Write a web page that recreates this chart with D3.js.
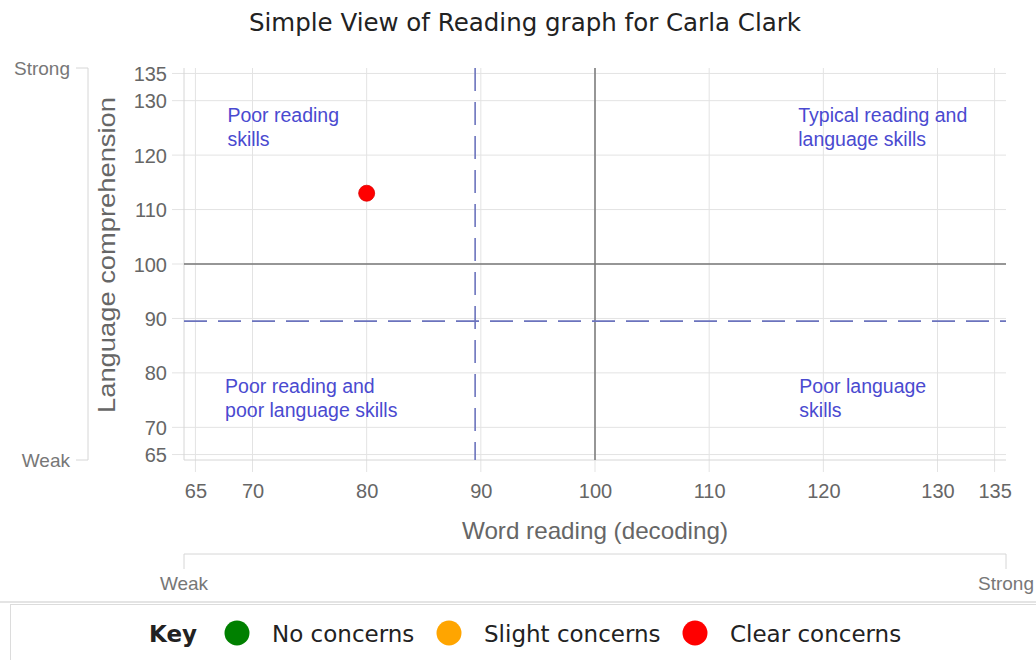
<!DOCTYPE html>
<html lang="en">
<head>
  <meta charset="UTF-8">
  <title>Simple View of Reading graph for Carla Clark</title>
  <style>
    html, body { margin: 0; padding: 0; background: #fff; overflow: hidden; }
    svg { display: block; }
  </style>
</head>
<body>
  <script src="https://d3js.org/d3.v7.min.js"></script>
  <script>
    // data
    const tickValues = [65, 70, 80, 90, 100, 110, 120, 130, 135];
    const pupil = [{ name: 'Carla Clark', decoding: 80, comprehension: 113, status: 'Clear concerns' }];
    const cutoff = 89.5;
    const average = 100;
    const quadrantLabels = [
      { lines: ['Poor reading', 'skills'], x: 67.8, y: 126 },
      { lines: ['Typical reading and', 'language skills'], x: 117.8, y: 126 },
      { lines: ['Poor reading and', 'poor language skills'], x: 67.6, y: 76.3 },
      { lines: ['Poor language', 'skills'], x: 117.9, y: 76.3 }
    ];
    const keyItems = ['No concerns', 'Slight concerns', 'Clear concerns'];
    const keyColors = ['#008000', '#ffa500', '#ff0000'];

    const width = 1036;
    const height = 660;
    const font = '"Liberation Sans", Arial, sans-serif';

    const svg = d3.select('body').append('svg')
      .attr('width', width)
      .attr('height', height);

    // title
    svg.append('text')
      .attr('x', 525).attr('y', 31)
      .attr('text-anchor', 'middle')
      .style('font-family', '"DejaVu Sans", sans-serif')
      .style('font-size', '24.5px')
      .attr('fill', '#222')
      .text('Simple View of Reading graph for Carla Clark');

    const x = d3.scaleLinear().domain([64, 136]).range([184, 1006]);
    const y = d3.scaleLinear().domain([64, 136]).range([460, 68]);

    // gridlines
    svg.append('g').selectAll('line')
      .data(tickValues).join('line')
      .attr('x1', d => x(d)).attr('x2', d => x(d))
      .attr('y1', y.range()[1]).attr('y2', y.range()[0] + 12)
      .attr('stroke', '#e3e3e3');
    svg.append('g').selectAll('line')
      .data(tickValues).join('line')
      .attr('y1', d => y(d)).attr('y2', d => y(d))
      .attr('x1', x.range()[0] - 12).attr('x2', x.range()[1])
      .attr('stroke', '#e3e3e3');

    // plot border (left + bottom)
    svg.append('path')
      .attr('d', `M${x.range()[0]},${y.range()[1]}V${y.range()[0]}H${x.range()[1]}`)
      .attr('fill', 'none').attr('stroke', '#d6d6d6');

    // axis labels
    const xAxis = d3.axisBottom(x).tickValues(tickValues).tickSize(0).tickPadding(0);
    const gx = svg.append('g').attr('transform', `translate(0,${y.range()[0] + 38})`).call(xAxis);
    const yAxis = d3.axisLeft(y).tickValues(tickValues).tickSize(0).tickPadding(0);
    const gy = svg.append('g').attr('transform', `translate(${x.range()[0] - 17},0)`).call(yAxis);
    [gx, gy].forEach(g => {
      g.select('.domain').remove();
      g.selectAll('text')
        .style('font-family', font)
        .style('font-size', '20px')
        .attr('fill', '#666');
    });
    gx.selectAll('text').attr('dy', '0');
    gy.selectAll('text').attr('dy', '0.35em');

    // reference lines at average
    svg.append('line')
      .attr('x1', x(average)).attr('x2', x(average))
      .attr('y1', y.range()[1]).attr('y2', y.range()[0])
      .attr('stroke', '#777').attr('stroke-width', 1.5);
    svg.append('line')
      .attr('y1', y(average)).attr('y2', y(average))
      .attr('x1', x.range()[0]).attr('x2', x.range()[1])
      .attr('stroke', '#777').attr('stroke-width', 1.5);

    // cutoff dashed lines
    svg.append('line')
      .attr('x1', x(cutoff)).attr('x2', x(cutoff))
      .attr('y1', y.range()[1]).attr('y2', y.range()[0])
      .attr('stroke', '#6b73bd').attr('stroke-width', 1.6)
      .attr('stroke-dasharray', '23,11');
    svg.append('line')
      .attr('y1', y(cutoff)).attr('y2', y(cutoff))
      .attr('x1', x.range()[0]).attr('x2', x.range()[1])
      .attr('stroke', '#6b73bd').attr('stroke-width', 1.6)
      .attr('stroke-dasharray', '23,11');

    // quadrant labels
    quadrantLabels.forEach(q => {
      const t = svg.append('text')
        .attr('x', x(q.x)).attr('y', y(q.y))
        .style('font-family', font)
        .style('font-size', '19.5px')
        .attr('fill', '#4a4ad0');
      q.lines.forEach((l, i) => {
        t.append('tspan').attr('x', x(q.x)).attr('dy', i === 0 ? 0 : 24).text(l);
      });
    });

    // point
    svg.append('g').selectAll('circle')
      .data(pupil).join('circle')
      .attr('cx', d => x(d.decoding))
      .attr('cy', d => y(d.comprehension))
      .attr('r', 8)
      .attr('fill', d => keyColors[keyItems.indexOf(d.status)])
      .attr('stroke', '#dd0000').attr('stroke-width', 0.8);

    // axis titles
    svg.append('text')
      .attr('transform', 'translate(115,255) rotate(-90)')
      .attr('text-anchor', 'middle')
      .attr('textLength', 316).attr('lengthAdjust', 'spacingAndGlyphs')
      .style('font-family', font)
      .style('font-size', '24px')
      .attr('fill', '#666')
      .text('Language comprehension');
    svg.append('text')
      .attr('x', x(100)).attr('y', 539)
      .attr('text-anchor', 'middle')
      .attr('textLength', 266).attr('lengthAdjust', 'spacingAndGlyphs')
      .style('font-family', font)
      .style('font-size', '24px')
      .attr('fill', '#666')
      .text('Word reading (decoding)');

    // weak / strong brackets
    const bracket = '#d6d6d6';
    svg.append('path')
      .attr('d', `M76,${y.range()[1]}H88V${y.range()[0]}H76`)
      .attr('fill', 'none').attr('stroke', bracket);
    svg.append('path')
      .attr('d', `M${x.range()[0]},569V554H${x.range()[1]}V569`)
      .attr('fill', 'none').attr('stroke', bracket);
    const small = [
      { t: 'Strong', x: 70, y: y.range()[1] + 7, a: 'end' },
      { t: 'Weak', x: 70, y: y.range()[0] + 7, a: 'end' },
      { t: 'Weak', x: x.range()[0], y: 590, a: 'middle' },
      { t: 'Strong', x: x.range()[1], y: 590, a: 'middle' }
    ];
    svg.append('g').selectAll('text')
      .data(small).join('text')
      .attr('x', d => d.x).attr('y', d => d.y)
      .attr('text-anchor', d => d.a)
      .style('font-family', font)
      .style('font-size', '19px')
      .attr('fill', '#777')
      .text(d => d.t);

    // key box
    svg.append('line')
      .attr('x1', 0).attr('x2', width).attr('y1', 602).attr('y2', 602)
      .attr('stroke', '#e4e4e4').attr('stroke-width', 2);
    svg.append('rect')
      .attr('x', 10.5).attr('y', 604.5)
      .attr('width', width + 10).attr('height', 80)
      .attr('fill', 'none').attr('stroke', '#dcdcdc');

    const key = svg.append('g').style('font-family', '"DejaVu Sans", sans-serif').style('font-size', '23px');
    key.append('text').attr('x', 149).attr('y', 642)
      .style('font-weight', 'bold').attr('fill', '#222').text('Key');
    const keyX = [237, 449, 695];
    keyItems.forEach((k, i) => {
      key.append('circle').attr('cx', keyX[i]).attr('cy', 633).attr('r', 12.5).attr('fill', keyColors[i]);
      key.append('text').attr('x', keyX[i] + 35).attr('y', 642).attr('fill', '#222').text(k);
    });
  </script>
</body>
</html>
